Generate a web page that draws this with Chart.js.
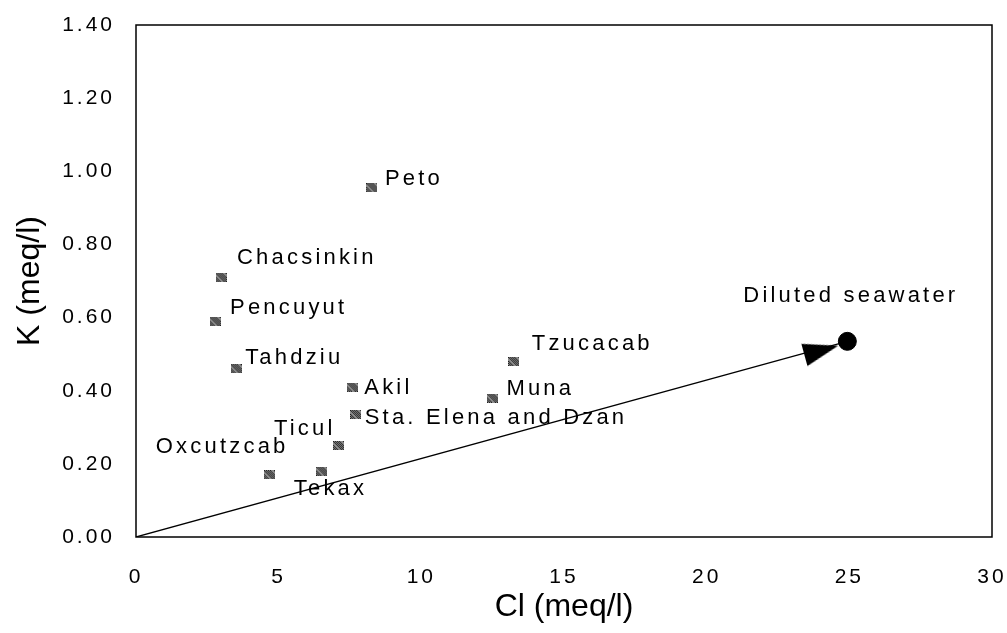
<!DOCTYPE html>
<html lang="en">
<head>
<meta charset="UTF-8">
<title>K vs Cl</title>
<script src="https://cdn.jsdelivr.net/npm/chart.js"></script>
<style>
    html, body { margin: 0; padding: 0; background: #fff; }
    #wrap { width: 1007px; height: 633px; }
</style>
</head>
<body>
<div id="wrap"><canvas id="clChart"></canvas></div>
<script>
// sampling sites
const siteNames = ['Peto', 'Chacsinkin', 'Pencuyut', 'Tahdziu', 'Akil', 'Sta. Elena and Dzan',
                   'Muna', 'Tzucacab', 'Ticul', 'Oxcutzcab', 'Tekax'];
const siteCl = [8.27, 2.98, 2.77, 3.51, 7.58, 7.70, 12.49, 13.24, 7.10, 4.68, 6.51];
const siteK  = [0.955, 0.71, 0.59, 0.46, 0.41, 0.335, 0.38, 0.48, 0.25, 0.17, 0.18];

// seawater end member and mixing line
const seawaterName = 'Diluted seawater';
const seawaterCl = [24.93];
const seawaterK = [0.535];
const mixingCl = [0, 24.93];
const mixingK = [0, 0.535];
const arrowCl = [24.0];
const arrowK = [0.51];

const xTicks = [0, 5, 10, 15, 20, 25, 30];
const yTicks = ['0.00', '0.20', '0.40', '0.60', '0.80', '1.00', '1.20', '1.40'];

// where each name sits relative to its marker: dx, dy, align
const siteLabelPos = [
    [13, -9, 'left'], [16, -19, 'left'], [15, -13, 'left'], [9, -11, 'left'],
    [12, 1, 'left'], [9, 3, 'left'], [14, -9, 'left'], [18, -18, 'left'],
    [-3, -17, 'right'], [19, -28, 'right'], [-28, 18, 'left']
];
const seawaterLabelPos = [-104, -45, 'left'];

function toPoints(xs, ys) {
    return xs.map((x, i) => ({ x: x, y: ys[i] }));
}

function makeMarker() {
    const c = document.createElement('canvas');
    c.width = 11; c.height = 9;
    const g = c.getContext('2d');
    g.fillStyle = '#8c8c8c';
    g.fillRect(0, 0, 11, 9);
    g.fillStyle = '#1e1e1e';
    for (let y = 0; y < 9; y++) {
        for (let x = 0; x < 11; x++) {
            if ((x + y) % 2 === 0 && (x * 7 + y * 3) % 5 !== 1) g.fillRect(x, y, 1, 1);
        }
    }
    return c;
}

function makeArrow() {
    const c = document.createElement('canvas');
    c.width = 40; c.height = 40;
    const g = c.getContext('2d');
    g.fillStyle = '#000';
    g.beginPath();
    g.moveTo(38, 20);
    g.lineTo(3, 8.5);
    g.lineTo(3, 31.5);
    g.closePath();
    g.fill();
    return c;
}

const labelFont = '22px "Liberation Sans", Arial, sans-serif';

const framePlugin = {
    id: 'frame',
    beforeDraw(chart) {
        chart.ctx.letterSpacing = '0px';
    },
    beforeDatasetsDraw(chart) {
        const a = chart.chartArea;
        const ctx = chart.ctx;
        ctx.save();
        ctx.strokeStyle = '#000';
        ctx.lineWidth = 1.5;
        ctx.strokeRect(a.left, a.top, a.right - a.left, a.bottom - a.top);
        ctx.restore();
        // tick labels are drawn after this, with the wide spacing of the original
        ctx.letterSpacing = '3px';
    },
    afterDraw(chart) {
        const ctx = chart.ctx;
        ctx.save();
        ctx.font = labelFont;
        ctx.letterSpacing = '3.2px';
        ctx.fillStyle = '#000';
        ctx.textBaseline = 'middle';
        const sites = chart.getDatasetMeta(3).data;
        sites.forEach((pt, i) => {
            const p = siteLabelPos[i];
            ctx.textAlign = p[2];
            ctx.fillText(siteNames[i], pt.x + p[0], pt.y + p[1]);
        });
        const sw = chart.getDatasetMeta(2).data[0];
        ctx.textAlign = seawaterLabelPos[2];
        ctx.fillText(seawaterName, sw.x + seawaterLabelPos[0], sw.y + seawaterLabelPos[1]);
        ctx.restore();
        ctx.letterSpacing = '0px';
    }
};

new Chart(document.getElementById('clChart'), {
    type: 'scatter',
    data: {
        datasets: [
            {
                data: toPoints(mixingCl, mixingK),
                showLine: true,
                borderColor: '#000',
                borderWidth: 1.3,
                pointRadius: 0
            },
            {
                data: toPoints(arrowCl, arrowK),
                pointStyle: makeArrow(),
                pointRotation: -15.3
            },
            {
                data: toPoints(seawaterCl, seawaterK),
                pointStyle: 'circle',
                pointRadius: 9,
                backgroundColor: '#000',
                borderColor: '#000'
            },
            {
                data: toPoints(siteCl, siteK),
                pointStyle: makeMarker()
            }
        ]
    },
    options: {
        responsive: true,
        maintainAspectRatio: false,
        animation: false,
        layout: { padding: { top: 25, right: 15, left: 0, bottom: 0 } },
        plugins: {
            legend: { display: false },
            tooltip: { enabled: false }
        },
        scales: {
            x: {
                type: 'linear',
                min: 0,
                max: 30,
                afterFit: (s) => { s.height = 96; s.paddingLeft = 0; s.paddingRight = 0; },
                afterBuildTicks: (s) => { s.ticks = xTicks.map(v => ({ value: v })); },
                grid: { display: false, drawTicks: false },
                border: { display: false },
                ticks: {
                    z: 1,
                    padding: 28,
                    color: '#000',
                    font: { family: '"Liberation Sans", Arial, sans-serif', size: 21 },
                    callback: (v) => String(v)
                },
                title: {
                    display: true,
                    text: 'Cl (meq/l)',
                    color: '#000',
                    padding: { top: 0, bottom: 7 },
                    font: { family: '"Liberation Sans", Arial, sans-serif', size: 32 }
                }
            },
            y: {
                type: 'linear',
                min: 0,
                max: 1.4,
                afterFit: (s) => { s.width = 136; s.paddingTop = 0; s.paddingBottom = 0; },
                afterBuildTicks: (s) => { s.ticks = yTicks.map(t => ({ value: parseFloat(t) })); },
                grid: { display: false, drawTicks: false },
                border: { display: false },
                ticks: {
                    z: 1,
                    padding: 21,
                    color: '#000',
                    font: { family: '"Liberation Sans", Arial, sans-serif', size: 21 },
                    callback: (v, i) => yTicks[i]
                },
                title: {
                    display: true,
                    text: 'K (meq/l)',
                    color: '#000',
                    padding: { top: 11, bottom: 0 },
                    font: { family: '"Liberation Sans", Arial, sans-serif', size: 32 }
                }
            }
        }
    },
    plugins: [framePlugin]
});
</script>
</body>
</html>
